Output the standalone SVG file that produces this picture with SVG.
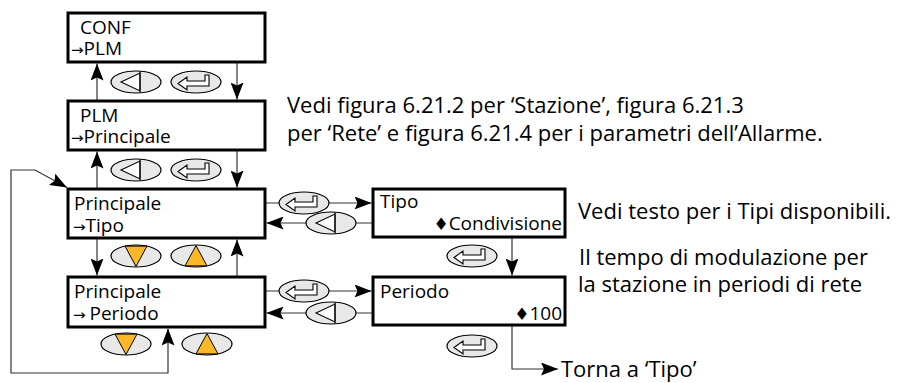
<svg xmlns="http://www.w3.org/2000/svg" width="902" height="383" viewBox="0 0 902 383">
<style>
.box{fill:#fff;stroke:#000;stroke-width:3}
.t{font-family:"Open Sans","Noto Sans","DejaVu Sans",sans-serif;font-size:19px;fill:#000}
.n{font-family:"Open Sans","Noto Sans","DejaVu Sans",sans-serif;font-size:22px;fill:#000}
.ar{font-size:15px}
.dm{font-family:"DejaVu Sans",sans-serif;font-size:17px}
.ln{fill:none;stroke:#333;stroke-width:1.2}
.ell{fill:#e8e8e8;stroke:#000;stroke-width:1.2}
.gl{fill:#fff;stroke:#000;stroke-width:1.1;stroke-linejoin:miter}
.or{fill:#fdb827;stroke:#000;stroke-width:1}
</style>
<defs>
<marker id="ah" viewBox="0 0 17 13" refX="17" refY="6.5" markerWidth="17" markerHeight="13" markerUnits="userSpaceOnUse" orient="auto-start-reverse">
<path d="M0,0 L17,6.5 L0,13 L3,6.5 Z" fill="#000"/>
</marker>
<g id="bBack"><ellipse class="ell" cx="0" cy="0" rx="25" ry="11"/><path class="gl" d="M-15,0 L4,-9 L4,9 Z"/><line x1="4" y1="-10.6" x2="4" y2="10.6" stroke="#000" stroke-width="1.1"/></g>
<g id="bEnter"><ellipse class="ell" cx="0" cy="0" rx="25" ry="11"/><path class="gl" d="M-18,1.5 L-9,-5 L-9,-1 L9,-1 L9,-7 L13,-7 L13,4 L-9,4 L-9,8 Z"/></g>
<g id="bDown"><ellipse class="ell" cx="0" cy="0" rx="25" ry="11"/><path class="or" d="M-11,-9.9 L11,-9.9 L0,10.5 Z"/></g>
<g id="bUp"><ellipse class="ell" cx="0" cy="0" rx="25" ry="11"/><path class="or" d="M-11,9.9 L11,9.9 L0,-10.5 Z"/></g>
</defs>

<g id="connectors">
<path class="ln" d="M97,101 L97,63.5" marker-end="url(#ah)"/>
<path class="ln" d="M237,63 L237,99.5" marker-end="url(#ah)"/>
<path class="ln" d="M97,189 L97,151.5" marker-end="url(#ah)"/>
<path class="ln" d="M237,151 L237,187.5" marker-end="url(#ah)"/>
<path class="ln" d="M97,239 L97,275.5" marker-end="url(#ah)"/>
<path class="ln" d="M237,277 L237,239.5" marker-end="url(#ah)"/>
<path class="ln" d="M168,328.5 L168,373 L11,373 L11,170 L35,170 L67,187.5" marker-start="url(#ah)" marker-end="url(#ah)"/>
<path class="ln" d="M265,203 L371.5,203" marker-end="url(#ah)"/>
<path class="ln" d="M373,223 L266.5,223" marker-end="url(#ah)"/>
<path class="ln" d="M265,291 L371.5,291" marker-end="url(#ah)"/>
<path class="ln" d="M373,313 L266.5,313" marker-end="url(#ah)"/>
<path class="ln" d="M512,238 L512,275.5" marker-end="url(#ah)"/>
<path class="ln" d="M512,326 L512,369 L558,369" marker-end="url(#ah)"/>
</g>

<g id="buttons">
<use href="#bBack" x="136" y="82"/>
<use href="#bEnter" x="196" y="82"/>
<use href="#bBack" x="136" y="170"/>
<use href="#bEnter" x="196" y="170"/>
<use href="#bDown" x="136" y="256"/>
<use href="#bUp" x="196" y="256"/>
<use href="#bDown" x="126" y="344"/>
<use href="#bUp" x="207" y="344"/>
<use href="#bEnter" x="304" y="203"/>
<use href="#bBack" x="331" y="223"/>
<use href="#bEnter" x="304" y="291"/>
<use href="#bBack" x="331" y="313"/>
<use href="#bEnter" x="472" y="256"/>
<use href="#bEnter" x="472" y="346"/>
</g>

<g id="conf">
<rect class="box" x="68" y="13" width="197" height="49"/>
<text class="t" x="80" y="34">CONF</text>
<text class="t" x="71" y="55"><tspan class="ar">→</tspan>PLM</text>
</g>
<g id="plm">
<rect class="box" x="68" y="101" width="197" height="49"/>
<text class="t" x="80" y="122">PLM</text>
<text class="t" x="71" y="143"><tspan class="ar">→</tspan>Principale</text>
</g>
<g id="princ-tipo">
<rect class="box" x="68" y="189" width="197" height="49"/>
<text class="t" x="74" y="210">Principale</text>
<text class="t" x="73" y="232"><tspan class="ar">→</tspan>Tipo</text>
</g>
<g id="princ-periodo">
<rect class="box" x="68" y="277" width="197" height="50"/>
<text class="t" x="74" y="298">Principale</text>
<text class="t" x="73" y="320"><tspan class="ar">→ </tspan>Periodo</text>
</g>
<g id="tipo">
<rect class="box" x="373" y="189" width="192" height="48"/>
<text class="t" x="380" y="208">Tipo</text>
<text class="t" x="562" y="230" text-anchor="end"><tspan class="dm">♦</tspan>Condivisione</text>
</g>
<g id="periodo">
<rect class="box" x="373" y="277" width="192" height="48"/>
<text class="t" x="380" y="298">Periodo</text>
<text class="t" x="562" y="320" text-anchor="end"><tspan class="dm">♦</tspan>100</text>
</g>

<g id="notes">
<text class="n" x="287" y="113">Vedi figura 6.21.2 per ‘Stazione’, figura 6.21.3</text>
<text class="n" x="287" y="141">per ‘Rete’ e figura 6.21.4 per i parametri dell’Allarme.</text>
<text class="n" x="578" y="219">Vedi testo per i Tipi disponibili.</text>
<text class="n" x="579" y="265">Il tempo di modulazione per</text>
<text class="n" x="578" y="292">la stazione in periodi di rete</text>
<text class="n" x="561" y="377">Torna a ‘Tipo’</text>
</g>
</svg>
